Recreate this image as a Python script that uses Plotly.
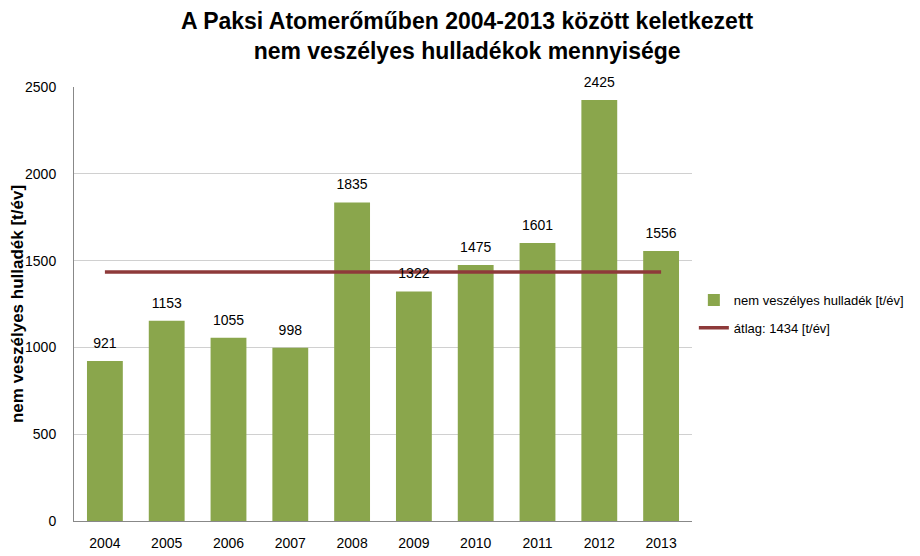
import plotly.graph_objects as go

years = ["2004", "2005", "2006", "2007", "2008", "2009", "2010", "2011", "2012", "2013"]
values = [921, 1153, 1055, 998, 1835, 1322, 1475, 1601, 2425, 1556]
average = 1434

FONT = "Liberation Sans, Arial"

fig = go.Figure()
fig.add_trace(go.Bar(
    x=years, y=values, name="nem veszélyes hulladék [t/év]",
    marker=dict(color="#8AA64C", line=dict(width=0)),
    legendgroup="a",
))
fig.add_trace(go.Scatter(
    x=years, y=[average] * len(years), mode="lines",
    name="átlag: 1434 [t/év]",
    line=dict(color="#8E3A3A", width=3.5),
    legendgroup="b",
))
fig.add_trace(go.Scatter(
    x=years, y=values, mode="markers+text", showlegend=False, hoverinfo="skip",
    text=[str(v) for v in values], textposition="top center",
    marker=dict(size=14, opacity=0),
    textfont=dict(family=FONT, size=14, color="#000"),
    cliponaxis=False,
))

fig.add_annotation(
    xref="paper", yref="paper", x=0.636, y=1.186, xanchor="center", yanchor="top",
    text="<b>A Paksi Atomerőműben 2004-2013 között keletkezett<br>nem veszélyes hulladékok mennyisége</b>",
    showarrow=False, font=dict(family=FONT, size=23, color="#000"),
)

fig.update_layout(
    width=940, height=556,
    margin=dict(l=66, r=256, t=79, b=43),
    paper_bgcolor="white", plot_bgcolor="white",
    bargap=0.42,
    font=dict(family=FONT, size=14, color="#000"),
    legend=dict(
        x=1.003, xanchor="left", y=0.477, yanchor="middle",
        font=dict(family=FONT, size=13, color="#000"),
        tracegroupgap=8, itemwidth=30,
    ),
    showlegend=True,
)
fig.update_xaxes(
    type="category", range=[-0.5, 9.5],
    showline=True, linecolor="#888", linewidth=1, showgrid=False,
    ticks="", tickfont=dict(size=14), automargin=False, ticklabelstandoff=9,
)
fig.update_yaxes(
    range=[0, 2500], dtick=500, showgrid=True, gridcolor="#D0D0D0", gridwidth=1,
    showline=True, linecolor="#888", linewidth=1, ticks="",
    zeroline=False, tickfont=dict(size=14), ticklabelstandoff=14,
    automargin=False,
    title=dict(text="<b>nem veszélyes hulladék [t/év]</b>",
               font=dict(family=FONT, size=17), standoff=14),
)

fig.write_html("out.html")
